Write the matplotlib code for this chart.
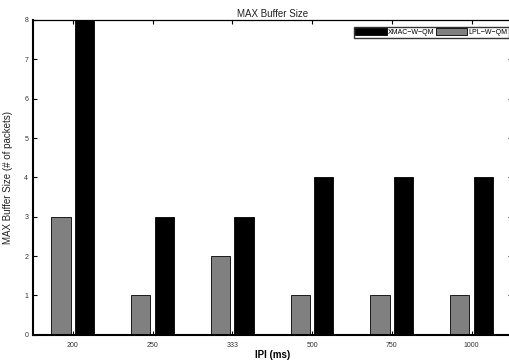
import numpy as np
import matplotlib
matplotlib.use("Agg")
import matplotlib.pyplot as plt

plt.rcParams["font.family"] = ["Liberation Sans", "DejaVu Sans"]

IPI = ["200", "250", "333", "500", "750", "1000"]
LPL = [3, 1, 2, 1, 1, 1]
XMAC = [8, 3, 3, 4, 4, 4]

x = np.arange(1, len(IPI) + 1)
w = 0.24

fig = plt.figure(figsize=(5.09, 3.62), dpi=100)
ax = fig.add_axes([0.065, 0.075, 0.94, 0.870])

b_lpl = ax.bar(x - 0.15, LPL, w, color="#808080", edgecolor="black", linewidth=0.6)
b_xmac = ax.bar(x + 0.145, XMAC, w, color="black", edgecolor="black", linewidth=0.6)

ax.set_xlim(0.5, 6.5)
ax.set_ylim(0, 8)
ax.set_xticks(x)
ax.set_xticklabels(IPI)
ax.set_yticks(range(0, 9))
ax.tick_params(direction="in", labelsize=5, length=3, top=True, right=True, width=0.8,
               labelcolor="#333333")
ax.tick_params(axis="x", pad=5)
for s in ax.spines.values():
    s.set_linewidth(1.5)
ax.spines["top"].set_linewidth(0.9)
ax.spines["right"].set_linewidth(0.9)

ax.set_title("MAX Buffer Size", fontsize=7, pad=2, color="#222222")
ax.set_xlabel("IPI (ms)", fontsize=7, fontweight="bold", labelpad=1)
ax.set_ylabel("MAX Buffer Size (# of packets)", fontsize=7, labelpad=8, color="#222222")

leg = ax.legend([b_xmac, b_lpl], ["XMAC\u2212W\u2212QM", "LPL\u2212W\u2212QM"],
                ncol=2, loc="upper right", bbox_to_anchor=(1.0, 0.985),
                fontsize=5, frameon=True, fancybox=False, edgecolor="black",
                handlelength=4.5, handleheight=1.0, handletextpad=0.2,
                columnspacing=0.2, borderpad=0.25, borderaxespad=0.3)
leg.get_frame().set_linewidth(1.0)

fig.savefig("out.png", dpi=100)
